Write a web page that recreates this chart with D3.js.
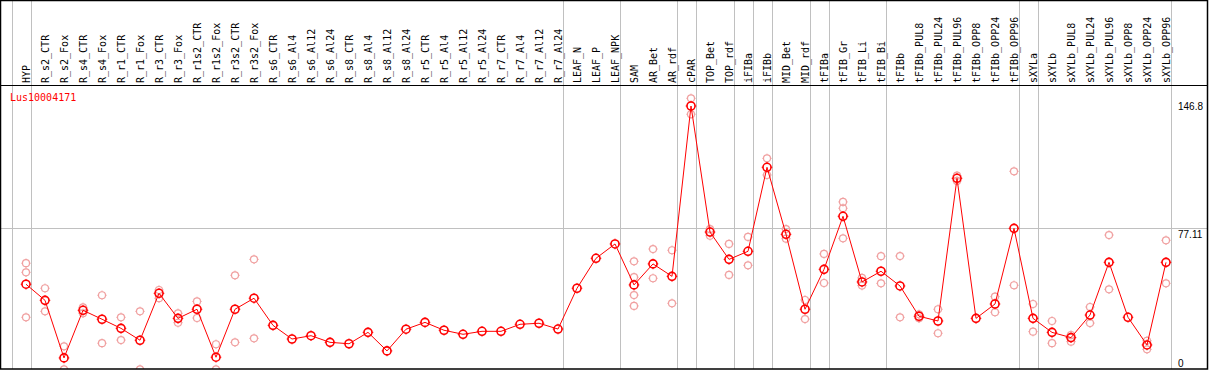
<!DOCTYPE html>
<html>
<head>
<meta charset="utf-8">
<style>
    body { margin: 0; background: #fff; }
    svg { display: block; font-family: 'DejaVu Sans Mono', monospace; }
    .col-label { font-size: 10px; fill: #000; }
    .y .tick text { font-size: 10px; fill: #000; }
    .y .domain { display: none; }
    .gene { font-size: 10px; fill: #ff0000; }
</style>
</head>
<body>
<svg width="1209" height="370"></svg>
<script src="https://cdnjs.cloudflare.com/ajax/libs/d3/7.8.5/d3.min.js"></script>
<script>
let width = 1209
let height = 370

let labels = [
    "HYP",
    "R_s2_CTR", "R_s2_Fox", "R_s4_CTR", "R_s4_Fox", "R_r1_CTR", "R_r1_Fox",
    "R_r3_CTR", "R_r3_Fox", "R_r1s2_CTR", "R_r1s2_Fox", "R_r3s2_CTR", "R_r3s2_Fox",
    "R_s6_CTR", "R_s6_Al4", "R_s6_Al12", "R_s6_Al24",
    "R_s8_CTR", "R_s8_Al4", "R_s8_Al12", "R_s8_Al24",
    "R_r5_CTR", "R_r5_Al4", "R_r5_Al12", "R_r5_Al24",
    "R_r7_CTR", "R_r7_Al4", "R_r7_Al12", "R_r7_Al24",
    "LEAF_N", "LEAF_P", "LEAF_NPK",
    "SAM", "AR_Bet", "AR_rdf", "cPAR", "TOP_Bet", "TOP_rdf",
    "iFIBa", "iFIBb", "MID_Bet", "MID_rdf",
    "tFIBa", "tFIB_Gr", "tFIB_Li", "tFIB_Bi",
    "tFIBb", "tFIBb_PUL8", "tFIBb_PUL24", "tFIBb_PUL96", "tFIBb_OPP8", "tFIBb_OPP24", "tFIBb_OPP96",
    "sXYLa", "sXYLb", "sXYLb_PUL8", "sXYLb_PUL24", "sXYLb_PUL96", "sXYLb_OPP8", "sXYLb_OPP24", "sXYLb_OPP96"
]

// mean expression per sample
let means = [
    45.0,
    35.8, 2.9, 30.1, 25.0, 19.8, 13.0,
    39.8, 25.5, 30.7, 3.3, 30.7, 37.0,
    21.5, 13.7, 15.6, 11.8,
    11.0, 17.5, 6.9, 19.3,
    23.2, 18.7, 16.4, 18.1,
    18.1, 22.1, 22.7, 19.4,
    42.7, 59.8, 68.0,
    44.6, 56.6, 49.5, 146.8, 74.8, 59.2,
    63.8, 111.8, 73.5, 30.7,
    53.5, 83.8, 46.3, 52.4,
    44.0, 26.7, 24.0, 105.5, 25.5, 33.7, 76.9,
    25.5, 17.5, 14.5, 27.4, 57.5, 26.1, 10.3, 57.5
]

// individual replicates
let replicates = [
    [57.0, 51.8, 26.1],
    [42.7, 29.5], [9.5, -3.6], [31.8, 28.4], [38.7, 11.3], [26.1, 13.1], [29.5, -3.6],
    [41.7, 37.0], [28.4, 23.0], [35.2, 25.7], [10.7, -3.6], [50.1, 11.8], [59.2, 14.1],
    [], [], [], [],
    [], [], [], [],
    [], [], [], [],
    [], [], [], [],
    [], [], [],
    [58.1, 49.0, 38.8, 32.6], [65.1, 48.4], [64.4, 34.1], [151.2, 142.1], [76.5, 72.7], [68.0, 50.3],
    [72.0, 55.8], [116.9, 107.4], [76.5, 71.0], [36.0, 25.1],
    [62.3, 45.7], [92.0, 88.4, 71.2], [48.6, 44.2], [61.0, 45.5],
    [61.1, 26.1], [27.8, 25.5], [30.7, 17.0], [107.0, 104.0], [], [37.9, 29.0], [109.5, 44.4],
    [33.7, 17.9], [24.0, 11.3], [16.0, 12.2], [32.0, 22.8], [73.1, 42.1], [], [12.7, 7.8], [70.1, 45.5]
]

// samples after which a group separator is drawn
let groupEnds = ["HYP", "R_r7_Al24", "LEAF_NPK", "AR_rdf", "cPAR", "TOP_rdf", "iFIBa", "iFIBb",
    "MID_rdf", "tFIBa", "tFIB_Bi", "tFIBb_OPP96", "sXYLa", "sXYLb_OPP96"]

let yTicks = [0, 77.11, 146.8]
let gene = "Lus10004171"

let svg = d3.select("svg")

let headerH = 85
let x = d3.scalePoint()
    .domain(labels)
    .range([26, 1166])

let y = d3.scaleLinear()
    .domain([0, 146.8])
    .range([363, 106])

let step = x.step()

svg.append("rect")
    .attr("width", width)
    .attr("height", height)
    .attr("fill", "#fff")

svg.append("clipPath")
    .attr("id", "plot-clip")
    .append("rect")
    .attr("x", 1)
    .attr("y", headerH + 1)
    .attr("width", 1206)
    .attr("height", 369 - headerH - 1)

// group separators
let sepX = [x(labels[0]) - step + 4.5].concat(groupEnds.map(d => x(d) + 4.5))
svg.append("g")
    .selectAll("line")
    .data(sepX)
    .join("line")
    .attr("x1", d => Math.round(d) + 0.5)
    .attr("x2", d => Math.round(d) + 0.5)
    .attr("y1", 0)
    .attr("y2", 369)
    .attr("stroke", "#c0c0c0")
    .attr("stroke-width", 1)

// middle gridline
svg.append("line")
    .attr("x1", 1)
    .attr("x2", 1207)
    .attr("y1", Math.round(y(yTicks[1])) + 0.5)
    .attr("y2", Math.round(y(yTicks[1])) + 0.5)
    .attr("stroke", "#c0c0c0")

// column labels
svg.append("g")
    .selectAll("text")
    .data(labels)
    .join("text")
    .attr("class", "col-label")
    .attr("transform", d => `translate(${x(d) + 4},83) rotate(-90)`)
    .text(d => d)

// header separator
svg.append("line")
    .attr("x1", 0)
    .attr("x2", 1208)
    .attr("y1", headerH + 0.5)
    .attr("y2", headerH + 0.5)
    .attr("stroke", "#000")

let yAxis = d3.axisRight(y)
    .tickValues(yTicks)
    .tickSize(0)
    .tickPadding(0)
    .tickFormat(d => String(d))

svg.append("g")
    .attr("class", "y axis")
    .attr("transform", "translate(1178,0)")
    .call(yAxis)
    .call(g => g.selectAll(".domain").remove())
    .call(g => g.selectAll(".tick text")
        .attr("dy", d => d == yTicks[1] ? "0.9em" : "0.32em"))

let plot = svg.append("g")
    .attr("clip-path", "url(#plot-clip)")

function marker(r, t) {
    return `M${-r - t},0H${-r}M${r},0H${r + t}M0,${-r - t}V${-r}M0,${r}V${r + t}`
}

let repPoints = []
replicates.forEach((reps, i) => {
    reps.forEach(v => repPoints.push({label: labels[i], value: v}))
})

let reps = plot.append("g")
    .selectAll("g")
    .data(repPoints)
    .join("g")
    .attr("transform", d => `translate(${x(d.label)},${y(d.value)})`)

reps.append("circle")
    .attr("r", 3.5)
    .attr("fill", "none")
    .attr("stroke", "#f0a0a0")
    .attr("stroke-width", 1.2)

reps.append("path")
    .attr("d", marker(3.5, 1.2))
    .attr("stroke", "#f0a0a0")
    .attr("stroke-width", 1)

let line = d3.line()
    .x((d, i) => x(labels[i]))
    .y(d => y(d))

plot.append("path")
    .datum(means)
    .attr("d", line)
    .attr("fill", "none")
    .attr("stroke", "#ff0000")
    .attr("stroke-width", 1)

let dots = plot.append("g")
    .selectAll("g")
    .data(means)
    .join("g")
    .attr("transform", (d, i) => `translate(${x(labels[i])},${y(d)})`)

dots.append("circle")
    .attr("r", 4)
    .attr("fill", "none")
    .attr("stroke", "#ff0000")
    .attr("stroke-width", 1.6)

dots.append("path")
    .attr("d", marker(4, 1.3))
    .attr("stroke", "#ff0000")
    .attr("stroke-width", 1)

svg.append("text")
    .attr("class", "gene")
    .attr("x", 10)
    .attr("y", 101)
    .text(gene)

// frame
svg.append("rect")
    .attr("x", 0.5)
    .attr("y", 0.5)
    .attr("width", 1207)
    .attr("height", 368.5)
    .attr("fill", "none")
    .attr("stroke", "#000")
    .attr("stroke-width", 1.5)
</script>
</body>
</html>
